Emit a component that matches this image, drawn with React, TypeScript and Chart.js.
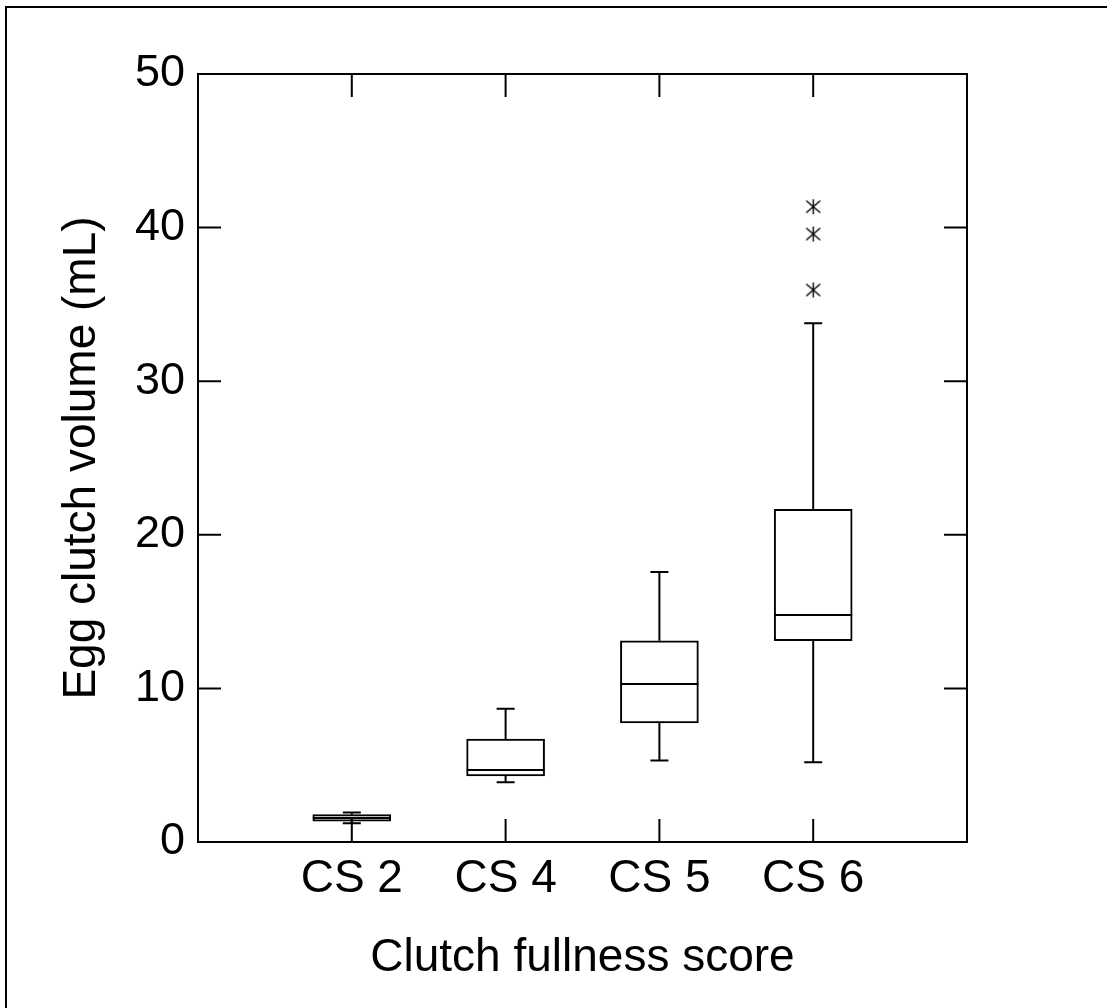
import { useEffect, useRef } from "react";
import { Chart, registerables } from "chart.js";

Chart.register(...registerables);

// Clutch fullness groups and their box-plot summaries (egg clutch volume, mL)
const categories = ["CS 2", "CS 4", "CS 5", "CS 6"];
const whiskerLow = [1.22, 3.89, 5.3, 5.19];
const quartile1 = [1.35, 4.3, 7.75, 13.1];
const medians = [1.56, 4.69, 10.29, 14.78];
const quartile3 = [1.78, 6.7, 13.1, 21.66];
const whiskerHigh = [1.92, 8.68, 17.58, 33.77];

// Outlying clutches
const outlierGroup = ["CS 6", "CS 6", "CS 6"];
const outlierValues = [41.36, 39.58, 35.94];

const yTickValues = [0, 10, 20, 30, 40, 50];

const FONT_FAMILY = "'Liberation Sans', Arial, Helvetica, sans-serif";
const TICK_LEN = 23;

function makeAsterisk(): HTMLCanvasElement {
  const c = document.createElement("canvas");
  c.width = 17;
  c.height = 17;
  const g = c.getContext("2d")!;
  g.strokeStyle = "#000";
  g.lineWidth = 1.4;
  g.beginPath();
  g.moveTo(8.5, 1);
  g.lineTo(8.5, 16);
  g.moveTo(1.5, 2.5);
  g.lineTo(15.5, 14.5);
  g.moveTo(15.5, 2.5);
  g.lineTo(1.5, 14.5);
  g.stroke();
  return c;
}

// Medians, whiskers and caps, positioned from the chart's scales
const whiskerPlugin = {
  id: "whiskers",
  afterDatasetsDraw(chart: any) {
    const { ctx } = chart;
    const x = chart.scales.x;
    const y = chart.scales.y;
    const boxes = chart.getDatasetMeta(0).data;
    ctx.save();
    ctx.strokeStyle = "#000";
    ctx.lineWidth = 2;
    const capHalf = 9;
    categories.forEach((_, i) => {
      const cx = x.getPixelForValue(i + 1);
      const half = boxes[i] ? boxes[i].width / 2 : 39;
      const yMed = y.getPixelForValue(medians[i]);
      const yQ1 = y.getPixelForValue(quartile1[i]);
      const yQ3 = y.getPixelForValue(quartile3[i]);
      const yLo = y.getPixelForValue(whiskerLow[i]);
      const yHi = y.getPixelForValue(whiskerHigh[i]);
      ctx.beginPath();
      ctx.moveTo(cx - half, yMed);
      ctx.lineTo(cx + half, yMed);
      ctx.moveTo(cx, yQ3);
      ctx.lineTo(cx, yHi);
      ctx.moveTo(cx - capHalf, yHi);
      ctx.lineTo(cx + capHalf, yHi);
      ctx.moveTo(cx, yQ1);
      ctx.lineTo(cx, yLo);
      ctx.moveTo(cx - capHalf, yLo);
      ctx.lineTo(cx + capHalf, yLo);
      ctx.stroke();
    });
    ctx.restore();
  },
};

// Plot frame with inward tick marks, plus the figure's outer rule
const framePlugin = {
  id: "frame",
  afterDraw(chart: any) {
    const { ctx, chartArea: a } = chart;
    const x = chart.scales.x;
    const y = chart.scales.y;
    ctx.save();
    ctx.strokeStyle = "#000";
    ctx.lineWidth = 2;
    ctx.strokeRect(a.left, a.top, a.right - a.left, a.bottom - a.top);
    ctx.beginPath();
    yTickValues.forEach((v) => {
      const py = y.getPixelForValue(v);
      ctx.moveTo(a.left, py);
      ctx.lineTo(a.left + TICK_LEN, py);
      ctx.moveTo(a.right, py);
      ctx.lineTo(a.right - TICK_LEN, py);
    });
    categories.forEach((_, i) => {
      const px = x.getPixelForValue(i + 1);
      ctx.moveTo(px, a.bottom);
      ctx.lineTo(px, a.bottom - TICK_LEN);
      ctx.moveTo(px, a.top);
      ctx.lineTo(px, a.top + TICK_LEN);
    });
    ctx.stroke();
    ctx.lineWidth = 2;
    ctx.beginPath();
    ctx.moveTo(6, chart.height);
    ctx.lineTo(6, 7);
    ctx.lineTo(chart.width, 7);
    ctx.stroke();
    ctx.restore();
  },
};

export default function App() {
  const canvasRef = useRef<HTMLCanvasElement | null>(null);

  useEffect(() => {
    if (!canvasRef.current) return;
    const font = { family: FONT_FAMILY, size: 46 };
    const tickFont = { family: FONT_FAMILY, size: 45 };
    const asterisk = makeAsterisk();

    const chart = new Chart(canvasRef.current, {
      type: "bar",
      data: {
        datasets: [
          {
            type: "bar",
            data: categories.map((_, i) => ({
              x: i + 1,
              y: [quartile1[i], quartile3[i]],
            })) as any,
            backgroundColor: "#ffffff",
            borderColor: "#000000",
            borderWidth: 2,
            borderSkipped: false,
            barThickness: 78,
          } as any,
          {
            type: "scatter",
            data: outlierValues.map((v, i) => ({
              x: categories.indexOf(outlierGroup[i]) + 1,
              y: v,
            })),
            pointStyle: asterisk,
            pointRadius: 8,
            pointHoverRadius: 8,
          } as any,
        ],
      },
      options: {
        responsive: false,
        animation: false,
        devicePixelRatio: 1,
        layout: { padding: { left: 0, top: 74, right: 140, bottom: 0 } },
        plugins: {
          legend: { display: false },
          tooltip: { enabled: false },
        },
        scales: {
          x: {
            type: "linear",
            min: 0,
            max: 5,
            offset: false,
            afterBuildTicks: (scale: any) => {
              scale.ticks = categories.map((_, i) => ({ value: i + 1 }));
            },
            afterFit: (scale: any) => {
              scale.height = 166;
            },
            ticks: {
              callback: (v: any) => categories[Number(v) - 1] ?? "",
              font,
              color: "#000",
              padding: 10,
              maxRotation: 0,
              autoSkip: false,
            },
            grid: { display: false, drawTicks: false },
            border: { display: false },
            title: {
              display: true,
              text: "Clutch fullness score",
              font,
              color: "#000",
              padding: { top: 0, bottom: 22 },
            },
          },
          y: {
            type: "linear",
            min: 0,
            max: 50,
            afterBuildTicks: (scale: any) => {
              scale.ticks = yTickValues.map((v) => ({ value: v }));
            },
            afterFit: (scale: any) => {
              scale.width = 198;
            },
            ticks: { font: tickFont, color: "#000", padding: 13 },
            grid: { display: false, drawTicks: false },
            border: { display: false },
            title: {
              display: true,
              text: "Egg clutch volume (mL)",
              font,
              color: "#000",
              padding: { top: 55, bottom: 0 },
            },
          },
        },
      } as any,
      plugins: [whiskerPlugin, framePlugin],
    });

    return () => chart.destroy();
  }, []);

  return (
    <div style={{ position: "absolute", left: 0, top: 0, width: 1107, height: 1008, background: "#fff" }}>
      <canvas ref={canvasRef} width={1107} height={1008} />
    </div>
  );
}
